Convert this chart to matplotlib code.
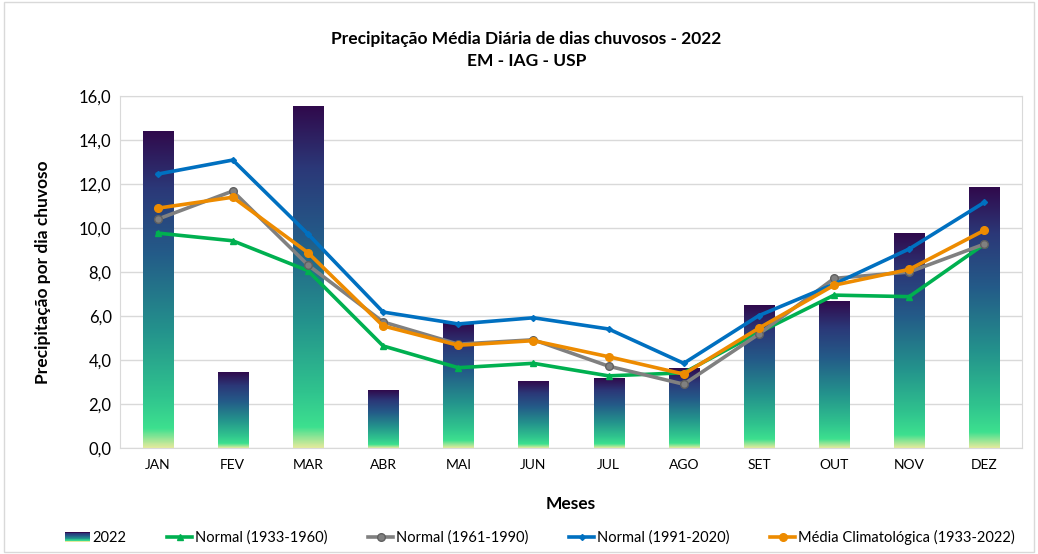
import matplotlib
matplotlib.use("Agg")
import matplotlib.pyplot as plt
import numpy as np
from matplotlib.colors import LinearSegmentedColormap
from matplotlib.legend_handler import HandlerBase
from matplotlib.patches import Rectangle, Patch
from matplotlib.lines import Line2D

plt.rcParams['font.family'] = ['Lato', 'DejaVu Sans']

meses = ['JAN', 'FEV', 'MAR', 'ABR', 'MAI', 'JUN', 'JUL', 'AGO', 'SET', 'OUT', 'NOV', 'DEZ']
prec_2022 = [14.4, 3.45, 15.5, 2.6, 5.65, 3.0, 3.15, 3.6, 6.47, 6.68, 9.73, 11.83]
normal_1933_1960 = [9.77, 9.42, 8.06, 4.64, 3.65, 3.85, 3.28, 3.42, 5.25, 6.95, 6.88, 9.27]
normal_1961_1990 = [10.4, 11.68, 8.32, 5.73, 4.72, 4.92, 3.72, 2.9, 5.18, 7.71, 8.0, 9.27]
normal_1991_2020 = [12.45, 13.09, 9.73, 6.18, 5.64, 5.92, 5.41, 3.85, 6.02, 7.45, 9.05, 11.17]
media_clim = [10.9, 11.4, 8.88, 5.55, 4.67, 4.88, 4.15, 3.36, 5.45, 7.4, 8.12, 9.9]

cmap = LinearSegmentedColormap.from_list('grad', [
    (0.0, '#e2ea9c'), (0.06, '#3de08f'), (0.16, '#30c48e'), (0.38, '#23908c'),
    (0.62, '#245a88'), (0.82, '#2b3878'), (1.0, '#300a4c')])


class HandlerGrad(HandlerBase):
    def create_artists(self, legend, orig_handle, xdescent, ydescent,
                       width, height, fontsize, trans):
        n = 12
        arts = []
        for i in range(n):
            r = Rectangle((-xdescent, -ydescent + height * i / n), width, height / n + 0.05,
                          facecolor=cmap(i / (n - 1)), edgecolor='none', transform=trans)
            arts.append(r)
        return arts


fig = plt.figure(figsize=(10.38, 5.54), dpi=100)
ax = fig.add_axes([0.1156, 0.1913, 0.869, 0.6354])
fig.patches.append(Rectangle((0.004, 0.004), 0.992, 0.992, transform=fig.transFigure,
                             fill=False, edgecolor='#d9d9d9', linewidth=1))

x = np.arange(len(meses))
w = 0.4
grad = np.linspace(0, 1, 256).reshape(-1, 1)
for xi, h in zip(x, prec_2022):
    ax.imshow(grad, extent=[xi - w / 2, xi + w / 2, 0, h], aspect='auto',
              cmap=cmap, origin='lower', zorder=2)

ax.plot(x, normal_1933_1960, color='#00b050', lw=2.6, marker='^', ms=5, zorder=3)
ax.plot(x, normal_1961_1990, color='#808080', lw=2.6, marker='o', ms=5.5,
        markeredgecolor='#606060', zorder=3)
ax.plot(x, normal_1991_2020, color='#0070c0', lw=2.6, marker='D', ms=3, zorder=4)
ax.plot(x, media_clim, color='#ed8b00', lw=2.6, marker='o', ms=5.5, zorder=5)

ax.set_xlim(-0.5, len(meses) - 0.5)
ax.set_ylim(0, 16)
ax.set_yticks(np.arange(0, 17, 2))
ax.set_yticklabels([f'{v:.1f}'.replace('.', ',') for v in np.arange(0, 17, 2)], fontsize=12)
ax.set_xticks(x)
ax.set_xticklabels(meses, fontsize=10)
ax.tick_params(length=0, pad=8)
ax.tick_params(axis='y', pad=6)
ax.grid(axis='y', color='#d9d9d9', lw=1, zorder=0)
ax.set_axisbelow(True)
for s in ax.spines.values():
    s.set_color('#d9d9d9')

ax.set_xlabel('Meses', fontsize=12.5, fontweight='bold', labelpad=18)
ax.set_ylabel('Precipitação por dia chuvoso', fontsize=12.5, fontweight='bold', labelpad=20)
fig.text(0.507, 0.93, 'Precipitação Média Diária de dias chuvosos - 2022', ha='center',
         va='center', fontsize=12.5, fontweight='bold')
fig.text(0.507, 0.89, 'EM - IAG - USP', ha='center', va='center', fontsize=12.5,
         fontweight='bold')

handles = [
    Patch(label='2022'),
    Line2D([], [], color='#00b050', lw=2.6, marker='^', ms=5, label='Normal (1933-1960)'),
    Line2D([], [], color='#808080', lw=2.6, marker='o', ms=5.5, markeredgecolor='#606060',
           label='Normal (1961-1990)'),
    Line2D([], [], color='#0070c0', lw=2.6, marker='D', ms=3, label='Normal (1991-2020)'),
    Line2D([], [], color='#ed8b00', lw=2.6, marker='o', ms=5.5,
           label='Média Climatológica (1933-2022)'),
]
fig.legend(handles=handles, loc='center', bbox_to_anchor=(0.52, 0.03), ncol=5,
           frameon=False, fontsize=10.5, handlelength=1.7, handletextpad=0.2,
           columnspacing=2.8, handler_map={Patch: HandlerGrad()})

fig.savefig('out.png', dpi=100)
